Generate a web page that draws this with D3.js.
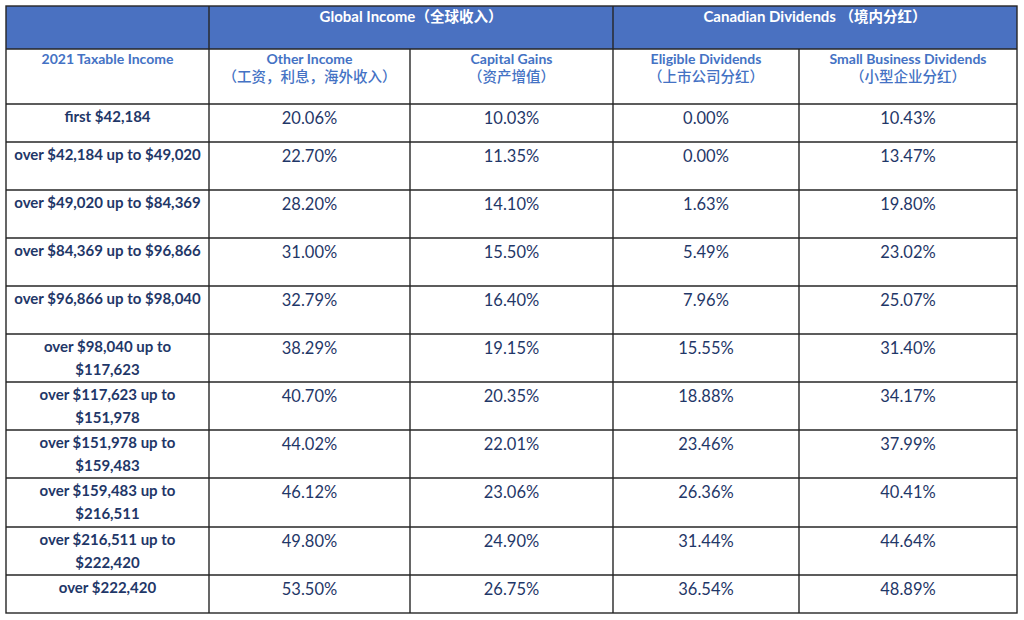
<!DOCTYPE html>
<html><head><meta charset="utf-8">
<script src="https://cdn.jsdelivr.net/npm/d3@7"></script>
<style>
html,body{margin:0;padding:0;background:#fff;}
svg{display:block;}
</style></head>
<body>
<svg id="chart" width="1024" height="620"></svg>
<script>
// ---------- data ----------
const groupHeaders = ["Global Income（全球收入）", "Canadian Dividends （境内分红）"];
const columnHeaders = [
  ["2021 Taxable Income"],
  ["Other Income", "（工资，利息，海外收入）"],
  ["Capital Gains", "（资产增值）"],
  ["Eligible Dividends", "（上市公司分红）"],
  ["Small Business Dividends", "（小型企业分红）"]
];
const brackets = [
  "first $42,184",
  "over $42,184 up to $49,020",
  "over $49,020 up to $84,369",
  "over $84,369 up to $96,866",
  "over $96,866 up to $98,040",
  "over $98,040 up to $117,623",
  "over $117,623 up to $151,978",
  "over $151,978 up to $159,483",
  "over $159,483 up to $216,511",
  "over $216,511 up to $222,420",
  "over $222,420"
];
const otherIncome = [20.06, 22.70, 28.20, 31.00, 32.79, 38.29, 40.70, 44.02, 46.12, 49.80, 53.50];
const capitalGains = [10.03, 11.35, 14.10, 15.50, 16.40, 19.15, 20.35, 22.01, 23.06, 24.90, 26.75];
const eligibleDividends = [0.00, 0.00, 1.63, 5.49, 7.96, 15.55, 18.88, 23.46, 26.36, 31.44, 36.54];
const smallBusinessDividends = [10.43, 13.47, 19.80, 23.02, 25.07, 31.40, 34.17, 37.99, 40.41, 44.64, 48.89];

// ---------- layout ----------
const colEdges = [6, 209, 410, 613, 799, 1017];
const rowEdges = [104, 142, 190, 238, 286, 334, 382, 430, 478, 527, 575, 613];
const tableTop = 6, headBottom = 49;
const LINE = "#262626";
const BLUE_FILL = "#4a71c1";
const BLUE_TEXT = "#4472c4";
const NAVY = "#1f3768";
const LATIN = "Lato, 'Open Sans', sans-serif";
const CJK = "'Noto Sans CJK SC', sans-serif";

const svg = d3.select("#chart");
const colIdx = d3.range(colEdges.length - 1);
const xL = d3.scaleOrdinal().domain(colIdx).range(colEdges.slice(0, -1));
const xR = d3.scaleOrdinal().domain(colIdx).range(colEdges.slice(1));
const xC = i => (xL(i) + xR(i)) / 2;
const rowIdx = d3.range(brackets.length);
const yT = d3.scaleOrdinal().domain(rowIdx).range(rowEdges.slice(0, -1));

const columns = [otherIncome, capitalGains, eligibleDividends, smallBusinessDividends];

// header band
svg.append("rect").attr("x", colEdges[0]).attr("y", tableTop)
  .attr("width", colEdges[colEdges.length-1] - colEdges[0]).attr("height", headBottom - tableTop)
  .attr("fill", BLUE_FILL);

const CJK_RE = /[\u3000-\u303f\u4e00-\u9fff\uff00-\uffef]/;
function mixedText(sel, str, latinWeight, cjkWeight, cjkSize) {
  const runs = str.match(/[\u3000-\u303f\u4e00-\u9fff\uff00-\uffef]+|[^\u3000-\u303f\u4e00-\u9fff\uff00-\uffef]+/g) || [];
  runs.forEach(r => {
    const isCjk = CJK_RE.test(r);
    const ts = sel.append("tspan").text(r)
      .attr("font-family", isCjk ? CJK : LATIN)
      .attr("font-weight", isCjk ? cjkWeight : latinWeight);
    if (isCjk && cjkSize) ts.attr("font-size", cjkSize);
  });
}

// group header text
const groupSpans = [[1, 2], [3, 4]];
groupHeaders.forEach((g, i) => {
  const [a, b] = groupSpans[i];
  const cx = (xL(a) + xR(b)) / 2;
  const t = svg.append("text").attr("x", cx).attr("y", 22)
    .attr("text-anchor", "middle").attr("fill", "#ffffff").attr("font-size", 15)
    .style("white-space", "pre");
  mixedText(t, g, 700, 700, 14.5);
});

// column headers
columnHeaders.forEach((lines, i) => {
  lines.forEach((ln, j) => {
    const t = svg.append("text").attr("x", xC(i)).attr("y", 64 + j * 18)
      .attr("text-anchor", "middle").attr("fill", BLUE_TEXT).attr("font-size", 14);
    mixedText(t, ln, 700, 500, 14.5);
  });
});

// row labels
function wrapLabel(s) {
  if (s.length > 26 && s.indexOf(" up to ") > 0) {
    const k = s.indexOf(" up to ") + 6;
    return [s.slice(0, k), s.slice(k + 1)];
  }
  return [s];
}
rowIdx.forEach(r => {
  const lines = wrapLabel(brackets[r]);
  lines.forEach((ln, j) => {
    svg.append("text").attr("x", xC(0)).attr("y", yT(r) + 18 + j * 23)
      .attr("text-anchor", "middle").attr("fill", NAVY)
      .attr("font-family", LATIN).attr("font-weight", 700).attr("font-size", 15)
      .text(ln);
  });
});

// values
const fmt = d3.format(".2f");
columns.forEach((vals, c) => {
  svg.append("g").selectAll("text").data(vals).join("text")
    .attr("x", xC(c + 1)).attr("y", (d, r) => yT(r) + 20)
    .attr("text-anchor", "middle").attr("fill", NAVY)
    .attr("font-family", LATIN).attr("font-size", 16.5)
    .text(d => fmt(d) + "%");
});

// grid lines
const g = svg.append("g").attr("stroke", LINE).attr("stroke-width", 1.4).attr("fill", "none");
g.append("rect").attr("x", colEdges[0]).attr("y", tableTop)
  .attr("width", colEdges[colEdges.length-1] - colEdges[0])
  .attr("height", rowEdges[rowEdges.length-1] - tableTop);
[headBottom].concat(rowEdges.slice(0, -1)).forEach(y => {
  g.append("line").attr("x1", colEdges[0]).attr("x2", colEdges[colEdges.length-1])
    .attr("y1", y).attr("y2", y);
});
colEdges.slice(1, -1).forEach((x, i) => {
  const full = (i === 0 || i === 2);
  g.append("line").attr("x1", x).attr("x2", x)
    .attr("y1", full ? tableTop : headBottom).attr("y2", rowEdges[rowEdges.length-1]);
});
</script>
</body></html>
